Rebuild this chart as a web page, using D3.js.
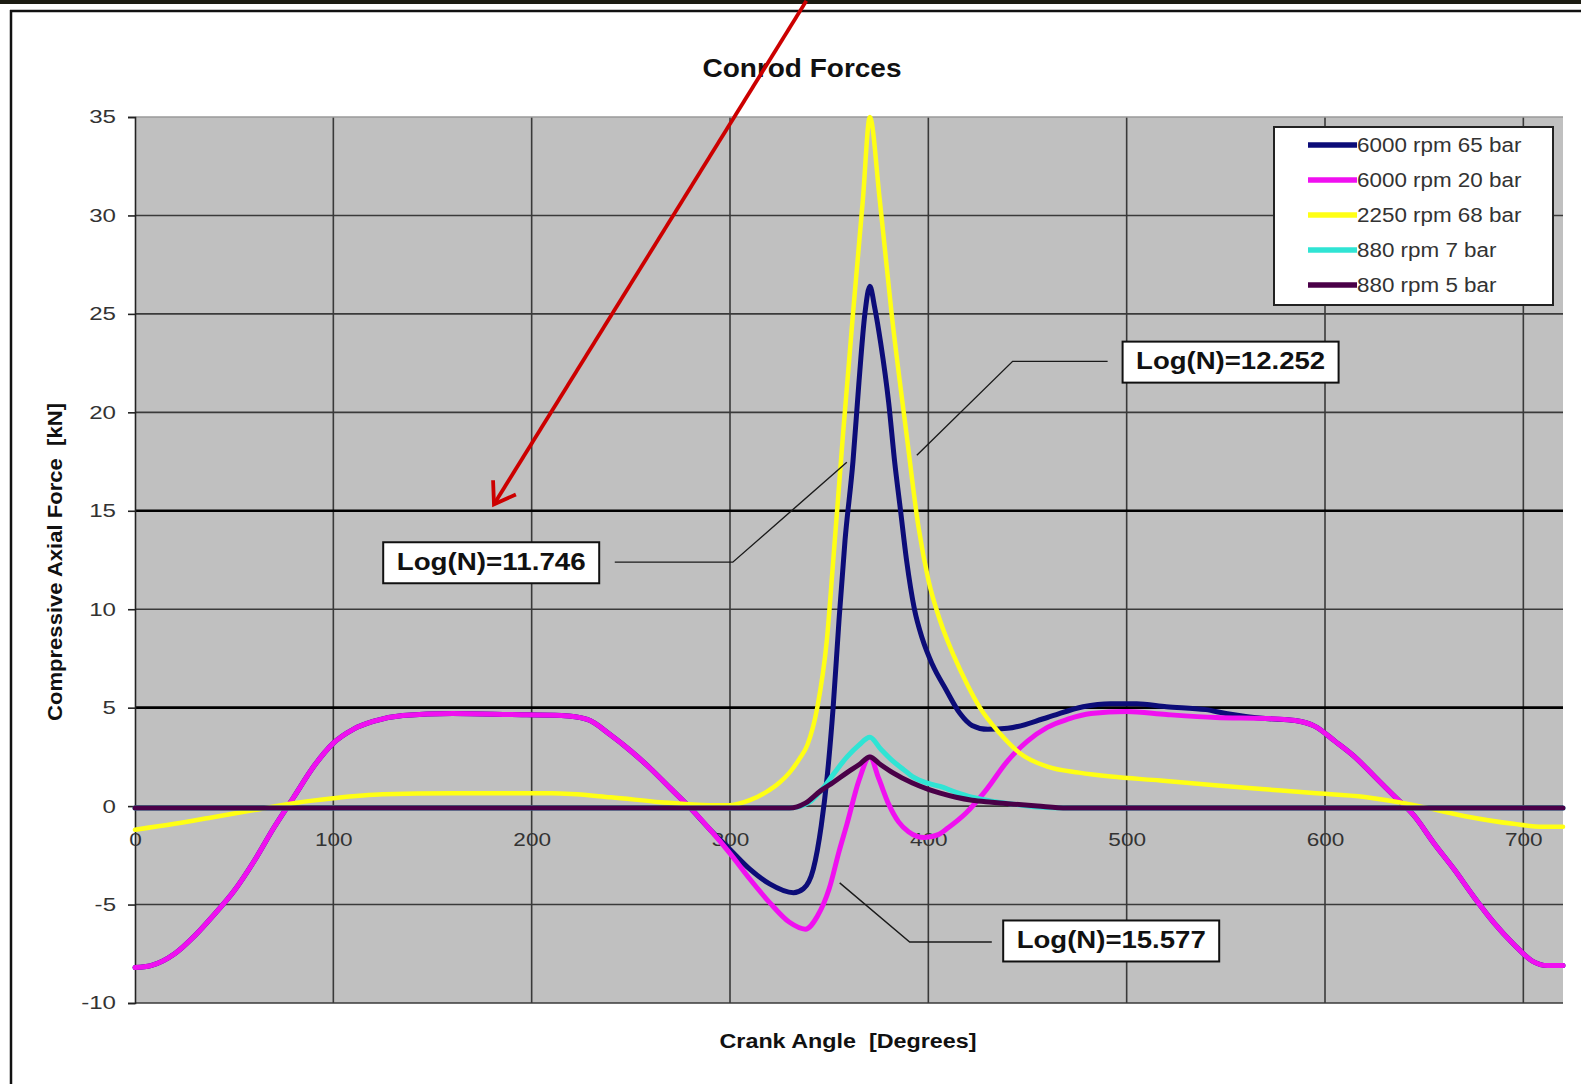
<!DOCTYPE html>
<html><head><meta charset="utf-8">
<script src="https://cdn.jsdelivr.net/npm/d3@7"></script>
<style>
body{margin:0;background:#fff}
svg{display:block}
text{font-family:"Liberation Sans",Arial,sans-serif}
.pre{white-space:pre}
</style>
</head><body>
<svg id="c" width="1581" height="1084"></svg>
<script>
// ---------- data ----------
const xTicks = [0,100,200,300,400,500,600,700];
const yTicks = [-10,-5,0,5,10,15,20,25,30,35];
const strongLines = [5,15];
const seriesNames = ["6000 rpm 65 bar","6000 rpm 20 bar","2250 rpm 68 bar","880 rpm 7 bar","880 rpm 5 bar"];

const navyAngle = [0,8,20,30,40,50,60,70,80,90,100,110,120,135,160,190,215,228,240,250,260,270,280,290,300,310,320,332,337,342,346,349,352,355,358,362,365,368,370.5,373,376,380,383,386,389,393,397,402,409,416,422,430,440,460,478,492,505,520,540,550,560,570,585,595,605,615,625,635,645,655,665,675,685,695,705,712,720];
const navyForce = [-8.2,-8.1,-7.5,-6.6,-5.5,-4.3,-2.8,-1.1,0.45,2.0,3.2,3.9,4.3,4.6,4.7,4.65,4.6,4.4,3.6,2.8,1.9,0.9,-0.1,-1.2,-2.2,-3.2,-3.95,-4.4,-4.2,-3.2,-1.0,1.5,5.0,9.5,13.5,17.5,21.5,25.0,26.4,25.3,23.5,20.5,17.5,15.0,12.5,10.0,8.5,7.2,5.9,4.7,4.1,3.9,3.95,4.5,5.05,5.2,5.2,5.05,4.9,4.7,4.55,4.45,4.35,4.05,3.3,2.5,1.5,0.5,-0.5,-1.9,-3.2,-4.6,-5.9,-7.0,-7.9,-8.1,-8.1];

const pinkAngle = [0,8,20,30,40,50,60,70,80,90,100,110,120,135,160,190,215,228,240,250,260,270,280,290,300,310,320,330,338,344,350,355,359,365,370.5,375,380,385,390,398,405,410,419,429,440,450,460,470,482,500,520,545,570,585,595,605,615,625,635,645,655,665,675,685,695,705,712,720];
const pinkForce = [-8.2,-8.1,-7.5,-6.6,-5.5,-4.3,-2.8,-1.1,0.45,2.0,3.2,3.9,4.3,4.6,4.7,4.65,4.6,4.4,3.6,2.8,1.9,0.9,-0.1,-1.2,-2.4,-3.7,-4.9,-5.9,-6.25,-5.6,-4.2,-2.3,-0.9,1.3,2.5,1.4,0.1,-0.8,-1.3,-1.6,-1.45,-1.1,-0.35,0.8,2.3,3.3,4.0,4.4,4.7,4.8,4.65,4.5,4.45,4.35,4.05,3.3,2.5,1.5,0.5,-0.5,-1.9,-3.2,-4.6,-5.9,-7.0,-7.9,-8.1,-8.1];

const yellowAngle = [0,20,40,60,80,100,125,160,210,240,265,290,300,310,318,325,330,335,339,344,348.8,352,357,362,367,370.5,375.5,381.5,389,395,400,406,413,420,426,436,446,460,476,492,517,543,568,594,620,645,670,695,710,720];
const yellowForce = [-1.2,-0.9,-0.55,-0.2,0.15,0.4,0.6,0.65,0.65,0.45,0.2,0.05,0.05,0.3,0.7,1.2,1.7,2.4,3.1,5.0,8.4,12.4,18.9,25.0,30.8,35.0,30.8,25.0,18.9,14.2,11.5,9.4,7.6,6.1,5.0,3.7,2.7,2.0,1.7,1.5,1.3,1.07,0.87,0.66,0.46,0.05,-0.5,-0.9,-1.05,-1.05];

const cyanAngle = [0,100,200,300,330,340,346,352,359,365,370.5,376,382,387,392,400,406,414,422,432,443,455,470,600,720];
const cyanForce = [-0.1,-0.1,-0.1,-0.1,-0.1,0.2,0.8,1.6,2.5,3.1,3.5,2.9,2.3,1.9,1.5,1.15,1.0,0.7,0.45,0.25,0.1,-0.05,-0.1,-0.1,-0.1];

const purpleAngle = [0,100,200,300,330,338,346,352,359,365,370.5,376,382,392,400,406,414,422,432,443,455,470,600,720];
const purpleForce = [-0.1,-0.1,-0.1,-0.1,-0.1,0.15,0.8,1.2,1.7,2.1,2.5,2.1,1.7,1.17,0.85,0.66,0.45,0.3,0.2,0.1,0.0,-0.1,-0.1,-0.1];

const annotationLabels = ["Log(N)=11.746","Log(N)=12.252","Log(N)=15.577"];
const annotationAnchor = [[179.6,12.36],[552.4,22.55],[492.2,-6.85]];
const leaderPoints = [
  [[241.9,12.39],[301.4,12.39],[358.9,17.46]],
  [[490.4,22.59],[442.5,22.59],[394.2,17.82]],
  [[432,-6.9],[390.6,-6.9],[355.3,-3.9]]
];
const arrowFrom = [338.5,40.9];
const arrowTo = [181,15.33];

// ---------- setup ----------
const svg = d3.select("#c");
const W = 1581, H = 1084;
const x = d3.scaleLinear().domain([0,720]).range([135,1563]);
const y = d3.scaleLinear().domain([-10,35]).range([1003,117]);
const fmt = d => String(d);

function stretch(sel, k){
  sel.each(function(){
    const w = this.getComputedTextLength();
    this.setAttribute("textLength", (w*k).toFixed(1));
    this.setAttribute("lengthAdjust","spacingAndGlyphs");
  });
}

// frame
svg.append("rect").attr("width",W).attr("height",H).attr("fill","#fff");
svg.append("line").attr("x1",0).attr("x2",W).attr("y1",2).attr("y2",2).attr("stroke","#1c1c12").attr("stroke-width",4);
svg.append("line").attr("x1",10).attr("x2",W).attr("y1",11).attr("y2",11).attr("stroke","#111").attr("stroke-width",2.5);
svg.append("line").attr("x1",11).attr("x2",11).attr("y1",10).attr("y2",H).attr("stroke","#111").attr("stroke-width",2.5);

// plot area
svg.append("rect").attr("x",x(0)).attr("y",y(35)).attr("width",x(720)-x(0)).attr("height",y(-10)-y(35)).attr("fill","#c0c0c0");

// gridlines
svg.append("g").selectAll("line").data(xTicks.filter(d=>d>0)).join("line")
  .attr("x1",d=>x(d)).attr("x2",d=>x(d)).attr("y1",y(35)).attr("y2",y(-10))
  .attr("stroke","#3a3a3a").attr("stroke-width",1.6);
svg.append("g").selectAll("line").data(yTicks).join("line")
  .attr("x1",x(0)).attr("x2",x(720)).attr("y1",d=>y(d)).attr("y2",d=>y(d))
  .attr("stroke",d=>strongLines.includes(d)?"#000":(d===35?"#9a9a9a":"#3a3a3a"))
  .attr("stroke-width",d=>strongLines.includes(d)?2.6:1.6);

// y axis
const yAxis = svg.append("g").attr("transform",`translate(${x(0)},0)`)
  .call(d3.axisLeft(y).tickValues(yTicks).tickSize(7).tickPadding(10).tickFormat(fmt));
yAxis.select(".domain").attr("stroke","#222").attr("stroke-width",1.6);
yAxis.selectAll(".tick line").attr("stroke","#222").attr("stroke-width",1.6);
yAxis.selectAll("text").attr("font-size",18.5).attr("fill","#333").attr("font-family","Liberation Sans, Arial, sans-serif").attr("dx",-2);
stretch(yAxis.selectAll("text"),1.3);

// x axis labels (at y=0 line)
const xAxis = svg.append("g").attr("transform",`translate(0,${y(0)})`)
  .call(d3.axisBottom(x).tickValues(xTicks).tickSize(0).tickPadding(27).tickFormat(fmt));
xAxis.select(".domain").remove();
xAxis.selectAll("text").attr("font-size",18.5).attr("fill","#333").attr("font-family","Liberation Sans, Arial, sans-serif");
stretch(xAxis.selectAll("text"),1.22);

// series
const series = [
  {name:seriesNames[0], a:navyAngle, v:navyForce, color:"#0c0c78", w:5},
  {name:seriesNames[1], a:pinkAngle, v:pinkForce, color:"#f010f0", w:5},
  {name:seriesNames[2], a:yellowAngle, v:yellowForce, color:"#ffff14", w:4.5},
  {name:seriesNames[3], a:cyanAngle, v:cyanForce, color:"#30e4d4", w:5},
  {name:seriesNames[4], a:purpleAngle, v:purpleForce, color:"#4a0048", w:5}
];
const line = d3.line().x(d=>x(d[0])).y(d=>y(d[1])).curve(d3.curveMonotoneX);
svg.append("g").selectAll("path").data(series).join("path")
  .attr("d",s=>line(s.a.map((a,i)=>[a,s.v[i]])))
  .attr("fill","none").attr("stroke",s=>s.color).attr("stroke-width",s=>s.w)
  .attr("stroke-linejoin","round").attr("stroke-linecap","round");

// title
svg.append("text").attr("x",802).attr("y",77).attr("text-anchor","middle")
  .attr("font-size",25).attr("font-weight","bold").attr("fill","#111")
  .attr("textLength",199).attr("lengthAdjust","spacingAndGlyphs").text("Conrod Forces");

// axis titles
svg.append("text").attr("class","pre").attr("transform","translate(62,562) rotate(-90)").attr("text-anchor","middle")
  .attr("font-size",20).attr("font-weight","bold").attr("fill","#111")
  .attr("textLength",318).attr("lengthAdjust","spacingAndGlyphs")
  .text("Compressive Axial Force  [kN]");
svg.append("text").attr("class","pre").attr("x",848).attr("y",1048).attr("text-anchor","middle")
  .attr("font-size",20).attr("font-weight","bold").attr("fill","#111")
  .attr("textLength",257).attr("lengthAdjust","spacingAndGlyphs")
  .text("Crank Angle  [Degrees]");

// legend
const lg = svg.append("g");
lg.append("rect").attr("x",1274).attr("y",127).attr("width",279).attr("height",178)
  .attr("fill","#fff").attr("stroke","#222").attr("stroke-width",2);
const items = lg.selectAll("g.item").data(series).join("g").attr("class","item")
  .attr("transform",(d,i)=>`translate(0,${145+i*35})`);
items.append("line").attr("x1",1308).attr("x2",1357).attr("y1",0).attr("y2",0)
  .attr("stroke",d=>d.color).attr("stroke-width",5.5);
const lt = items.append("text").attr("x",1357).attr("y",7).attr("font-size",20).attr("fill","#333").text(d=>d.name);
stretch(lt,1.12);

// leader lines
const leader = d3.line().x(d=>x(d[0])).y(d=>y(d[1]));
svg.append("g").selectAll("path").data(leaderPoints).join("path")
  .attr("d",leader).attr("fill","none").attr("stroke","#1a1a1a").attr("stroke-width",1.4);

// annotation boxes
const boxW = 216, boxH = 41;
const ann = svg.append("g").selectAll("g").data(annotationLabels).join("g")
  .attr("transform",(d,i)=>`translate(${x(annotationAnchor[i][0])},${y(annotationAnchor[i][1])})`);
ann.append("rect").attr("x",-boxW/2).attr("y",-boxH/2).attr("width",boxW).attr("height",boxH)
  .attr("fill","#fff").attr("stroke","#111").attr("stroke-width",2);
ann.append("text").attr("text-anchor","middle").attr("y",7).attr("font-size",24).attr("font-weight","bold")
  .attr("fill","#111").attr("textLength",189).attr("lengthAdjust","spacingAndGlyphs").text(d=>d);

// red arrow
const ax0 = x(arrowFrom[0]), ay0 = y(arrowFrom[1]), ax1 = x(arrowTo[0]), ay1 = y(arrowTo[1]);
const ang = Math.atan2(ay0-ay1, ax0-ax1);
const wing = 24, spread = 34*Math.PI/180;
svg.append("line").attr("x1",ax0).attr("y1",ay0).attr("x2",ax1).attr("y2",ay1)
  .attr("stroke","#cc0000").attr("stroke-width",3.8);
svg.append("path")
  .attr("d",`M${ax1+wing*Math.cos(ang-spread)},${ay1+wing*Math.sin(ang-spread)}L${ax1},${ay1}L${ax1+wing*Math.cos(ang+spread)},${ay1+wing*Math.sin(ang+spread)}`)
  .attr("fill","none").attr("stroke","#cc0000").attr("stroke-width",3.8).attr("stroke-linejoin","miter");
</script>
</body></html>
